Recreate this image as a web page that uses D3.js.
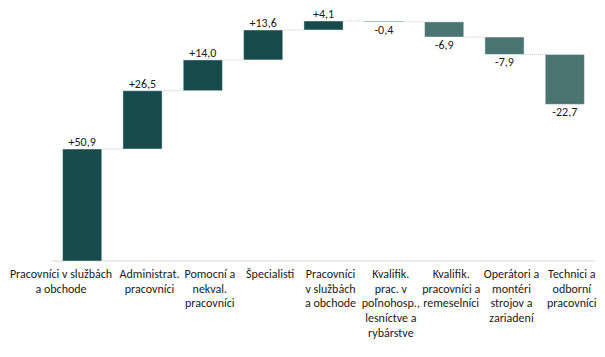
<!DOCTYPE html>
<html>
<head>
<meta charset="utf-8">
<script src="https://cdn.jsdelivr.net/npm/d3@7"></script>
<style>
  html, body { margin: 0; padding: 0; background: #fff; }
  svg text { font-family: Carlito, "Liberation Sans Narrow", "Open Sans", sans-serif; fill: #1a1a1a; }
</style>
</head>
<body>
<svg id="chart" width="605" height="357"></svg>
<script>
// Data
const categories = [
  ["Pracovníci v službách", "a obchode"],
  ["Administrat.", "pracovníci"],
  ["Pomocní a", "nekval.", "pracovníci"],
  ["Špecialisti"],
  ["Pracovníci", "v službách", "a obchode"],
  ["Kvalifik.", "prac. v", "poľnohosp.,", "lesníctve a", "rybárstve"],
  ["Kvalifik.", "pracovníci a", "remeselníci"],
  ["Operátori a", "montéri", "strojov a", "zariadení"],
  ["Technici a", "odborní", "pracovníci"]
];
const changes = [50.9, 26.5, 14.0, 13.6, 4.1, -0.4, -6.9, -7.9, -22.7];

// Build waterfall table
let run = 0;
const rows = changes.map((v, i) => {
  const start = run;
  run += v;
  return { i, v, start, end: run };
});

const svg = d3.select("#chart");
const x = d3.scaleBand().domain(d3.range(categories.length)).range([52, 595])
  .paddingInner(0.35).paddingOuter(0.175);
const y = d3.scaleLinear().domain([0, 110]).range([261, 19]);

const posColor = "#174b4b", negColor = "#4a7472";

// baseline
svg.append("line")
  .attr("x1", 52).attr("x2", 595)
  .attr("y1", y(0)).attr("y2", y(0))
  .attr("stroke", "#d4d4d4").attr("stroke-width", 1);

// connectors
svg.selectAll("line.conn").data(rows.slice(0, -1)).enter().append("line")
  .attr("class", "conn")
  .attr("x1", d => x(d.i) + x.bandwidth())
  .attr("x2", d => x(d.i + 1))
  .attr("y1", d => y(d.end)).attr("y2", d => y(d.end))
  .attr("stroke", "#c8c8c8").attr("stroke-width", 1)
  .attr("stroke-dasharray", "1,1");

// bars
svg.selectAll("rect.bar").data(rows).enter().append("rect")
  .attr("class", "bar")
  .attr("x", d => x(d.i))
  .attr("width", x.bandwidth())
  .attr("y", d => y(Math.max(d.start, d.end)))
  .attr("height", d => Math.abs(y(d.start) - y(d.end)))
  .attr("fill", d => d.v >= 0 ? posColor : negColor)
  .attr("stroke", "rgba(255,255,255,0.45)")
  .attr("stroke-width", 1);

// value labels
const fmt = v => (v > 0 ? "+" : "") + v.toFixed(1).replace(".", ",");
svg.selectAll("text.val").data(rows).enter().append("text")
  .attr("class", "val")
  .attr("x", d => x(d.i) + x.bandwidth() / 2)
  .attr("y", d => d.v >= 0 ? y(d.end) - 3 : y(d.end) + 12)
  .attr("text-anchor", "middle")
  .attr("font-size", "12px")
  .text(d => fmt(d.v));

// category labels
const lab = svg.selectAll("text.cat").data(categories).enter().append("text")
  .attr("class", "cat")
  .attr("font-size", "12px")
  .attr("text-anchor", (d, i) => i === 0 ? "start" : "middle")
  .attr("transform", (d, i) => `translate(${i === 0 ? 10 : x(i) + x.bandwidth() / 2 + 7},278)`);
lab.selectAll("tspan").data(d => d).enter().append("tspan")
  .attr("x", 0)
  .attr("dy", (d, j) => j === 0 ? 0 : 14.7)
  .attr("text-anchor", function() { return null; })
  .text(d => d);
lab.each(function(d, i) {
  if (i === 0) {
    // second line centred under the first
    const t = d3.select(this);
    t.attr("text-anchor", "middle").attr("transform", `translate(61,278)`);
  }
});
</script>
</body>
</html>
